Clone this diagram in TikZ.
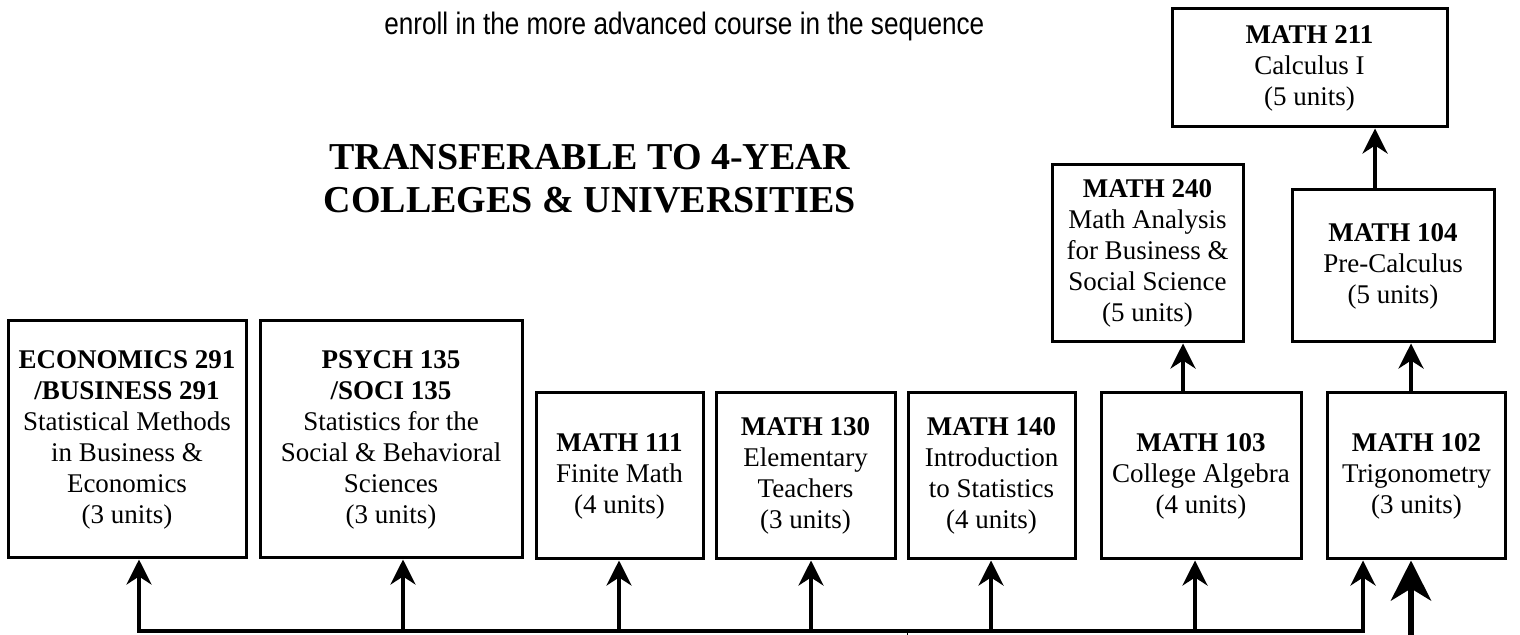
\documentclass[tikz,border=0pt]{standalone}
\usepackage{fontspec}
\setmainfont{Liberation Serif}
\newfontfamily\narrowsans[FakeStretch=0.843]{Liberation Sans}
\usetikzlibrary{arrows.meta,calc}
\tikzset{
   course/.style={draw=black, line width=1.5pt, align=center, inner sep=1pt,
                  font=\fontsize{13.5}{15.5}\selectfont},
   flow/.style={line width=2pt, -{Stealth[length=12.5pt,width=12.5pt,inset=4pt]}},
   bigflow/.style={line width=3.2pt, -{Stealth[length=20pt,width=20pt,inset=6pt]}},
   bus/.style={line width=2pt, line cap=rect}
}
\begin{document}
\begin{tikzpicture}[x=0.5pt,y=-0.5pt]
\useasboundingbox (0,0) rectangle (1520,635);
\draw (384,35) node[anchor=base west,inner sep=0pt,font=\narrowsans\fontsize{15.5}{18}\selectfont] (note) {enroll in the more advanced course in the sequence};
\draw (590,179) node[align=center,inner sep=0pt,font=\fontsize{19}{21.5}\selectfont\bfseries] (title) {TRANSFERABLE TO 4-YEAR\\COLLEGES \& UNIVERSITIES};
\draw (127,439.5) node[course,minimum width=119pt,minimum height=118.5pt] (econ) {\textbf{ECONOMICS 291}\\\textbf{/BUSINESS 291}\\Statistical Methods\\in Business \&\\Economics\\(3 units)};
\draw (391,439.5) node[course,minimum width=131pt,minimum height=118.5pt] (psych) {\textbf{PSYCH 135}\\\textbf{/SOCI 135}\\Statistics for the\\Social \& Behavioral\\Sciences\\(3 units)};
\draw (619.5,476) node[course,minimum width=83.5pt,minimum height=83pt] (m111) {\textbf{MATH 111}\\Finite Math\\(4 units)};
\draw (805.5,476) node[course,minimum width=89.5pt,minimum height=83pt] (m130) {\textbf{MATH 130}\\Elementary\\Teachers\\(3 units)};
\draw (991.5,476) node[course,minimum width=83.5pt,minimum height=83pt] (m140) {\textbf{MATH 140}\\Introduction\\to Statistics\\(4 units)};
\draw (1201,476) node[course,minimum width=100pt,minimum height=83pt] (m103) {\textbf{MATH 103}\\College Algebra\\(4 units)};
\draw (1416.5,476) node[course,minimum width=89pt,minimum height=83pt] (m102) {\textbf{MATH 102}\\Trigonometry\\(3 units)};
\draw (1147.5,253.5) node[course,minimum width=95.5pt,minimum height=88.5pt] (m240) {\textbf{MATH 240}\\Math Analysis\\for Business \&\\Social Science\\(5 units)};
\draw (1393,266) node[course,minimum width=101pt,minimum height=76pt] (m104) {\textbf{MATH 104}\\Pre-Calculus\\(5 units)};
\draw (1309.5,68) node[course,minimum width=137.5pt,minimum height=59pt] (m211) {\textbf{MATH 211}\\Calculus I\\(5 units)};
\coordinate (b1) at (139,631);
\coordinate (b2) at (403,631);
\coordinate (b3) at (619,631);
\coordinate (b4) at (811,631);
\coordinate (b5) at (991,631);
\coordinate (b6) at (1195,631);
\coordinate (b7) at (1363,631);
\coordinate (stub) at (907,631);
\coordinate (feed) at (1411,645);
\coordinate (u1) at (1183,0);
\coordinate (u2) at (1411,0);
\coordinate (u3) at (1375,0);
\draw[bus] (b1) -- (b7);
\draw[line width=0.5pt] (stub) -- ++(0,8);
\draw[flow] (b1) -- (b1 |- econ.south);
\draw[flow] (b2) -- (b2 |- psych.south);
\draw[flow] (b3) -- (b3 |- m111.south);
\draw[flow] (b4) -- (b4 |- m130.south);
\draw[flow] (b5) -- (b5 |- m140.south);
\draw[flow] (b6) -- (b6 |- m103.south);
\draw[flow] (b7) -- (b7 |- m102.south);
\draw[bigflow] (feed) -- (feed |- m102.south);
\draw[flow] (m103.north -| u1) -- (m240.south -| u1);
\draw[flow] (m102.north -| u2) -- (m104.south -| u2);
\draw[flow] (m104.north -| u3) -- (m211.south -| u3);
\end{tikzpicture}
\end{document}
